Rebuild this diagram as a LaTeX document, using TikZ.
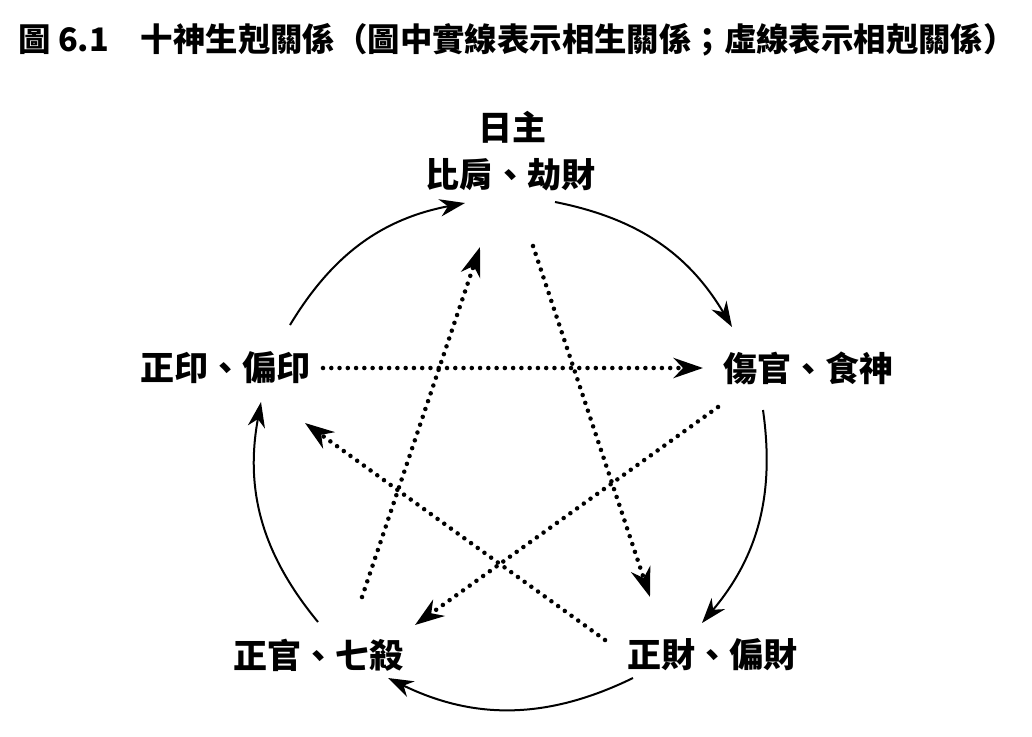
\documentclass[tikz,border=0pt]{standalone}
\usepackage{fontspec}
\usepackage{tikz}
\usetikzlibrary{arrows.meta}
\newfontfamily\cjk{Noto Sans CJK TC}

\begin{document}
\begin{tikzpicture}[x=0.75pt,y=0.75pt,
  lbl/.style={font=\cjk\bfseries\fontsize{25.5}{30}\selectfont, inner sep=0pt},
  gen/.style={line width=1.5pt, -{Stealth[length=19pt,width=13pt,inset=6pt]}},
  ke/.style={line width=3.4pt, line cap=round, dash pattern=on 0pt off 6.2pt,
    -{Stealth[length=22pt,width=15pt,inset=7pt]}}]
\useasboundingbox (0,0) rectangle (1032,-736);
\fill [white] (0,0) rectangle (1032,-736);
% title
\node [anchor=west, inner sep=0pt, font=\cjk\bfseries\fontsize{24.3}{28}\selectfont] (title) at (18,-40)
  {圖 6.1\hspace{24pt}十神生剋關係（圖中實線表示相生關係；虛線表示相剋關係）};
% the five groups
\node [lbl] (rz) at (512,-127) {日主};
\node [lbl] (bj) at (510,-175) {比肩、劫財};
\node [lbl] (sg) at (808,-368) {傷官、食神};
\node [lbl] (cai) at (712,-655) {正財、偏財};
\node [lbl] (gs) at (318,-655) {正官、七殺};
\node [lbl] (yin) at (225,-368) {正印、偏印};
% sheng: solid ring
\draw [gen] ([shift={(45,-27)}]bj.center) to[bend left=24] ([shift={(-76,41)}]sg.center);
\draw [gen] ([shift={(-45,-42)}]sg.center) to[bend left=24] ([shift={(-10,32)}]cai.center);
\draw [gen] ([shift={(-79,-23)}]cai.center) to[bend left=26] ([shift={(70,-23)}]gs.center);
\draw [gen] ([shift={(0,33)}]gs.center) to[bend left=25] ([shift={(36,-34)}]yin.center);
\draw [gen] ([shift={(65,43)}]yin.center) to[bend left=24] ([shift={(-45,-28)}]bj.center);
% ke: dotted star
\draw [ke] ([shift={(23,-71)}]bj.center) -- ([shift={(-62,58)}]cai.center);
\draw [ke] ([shift={(-107,15)}]cai.center) -- ([shift={(80,-55)}]yin.center);
\draw [ke] ([shift={(98,0)}]yin.center) -- ([shift={(-105,0)}]sg.center);
\draw [ke] ([shift={(-90,-39)}]sg.center) -- ([shift={(97,30)}]gs.center);
\draw [ke] ([shift={(44,58)}]gs.center) -- ([shift={(-30,-72)}]bj.center);
\end{tikzpicture}
\end{document}
